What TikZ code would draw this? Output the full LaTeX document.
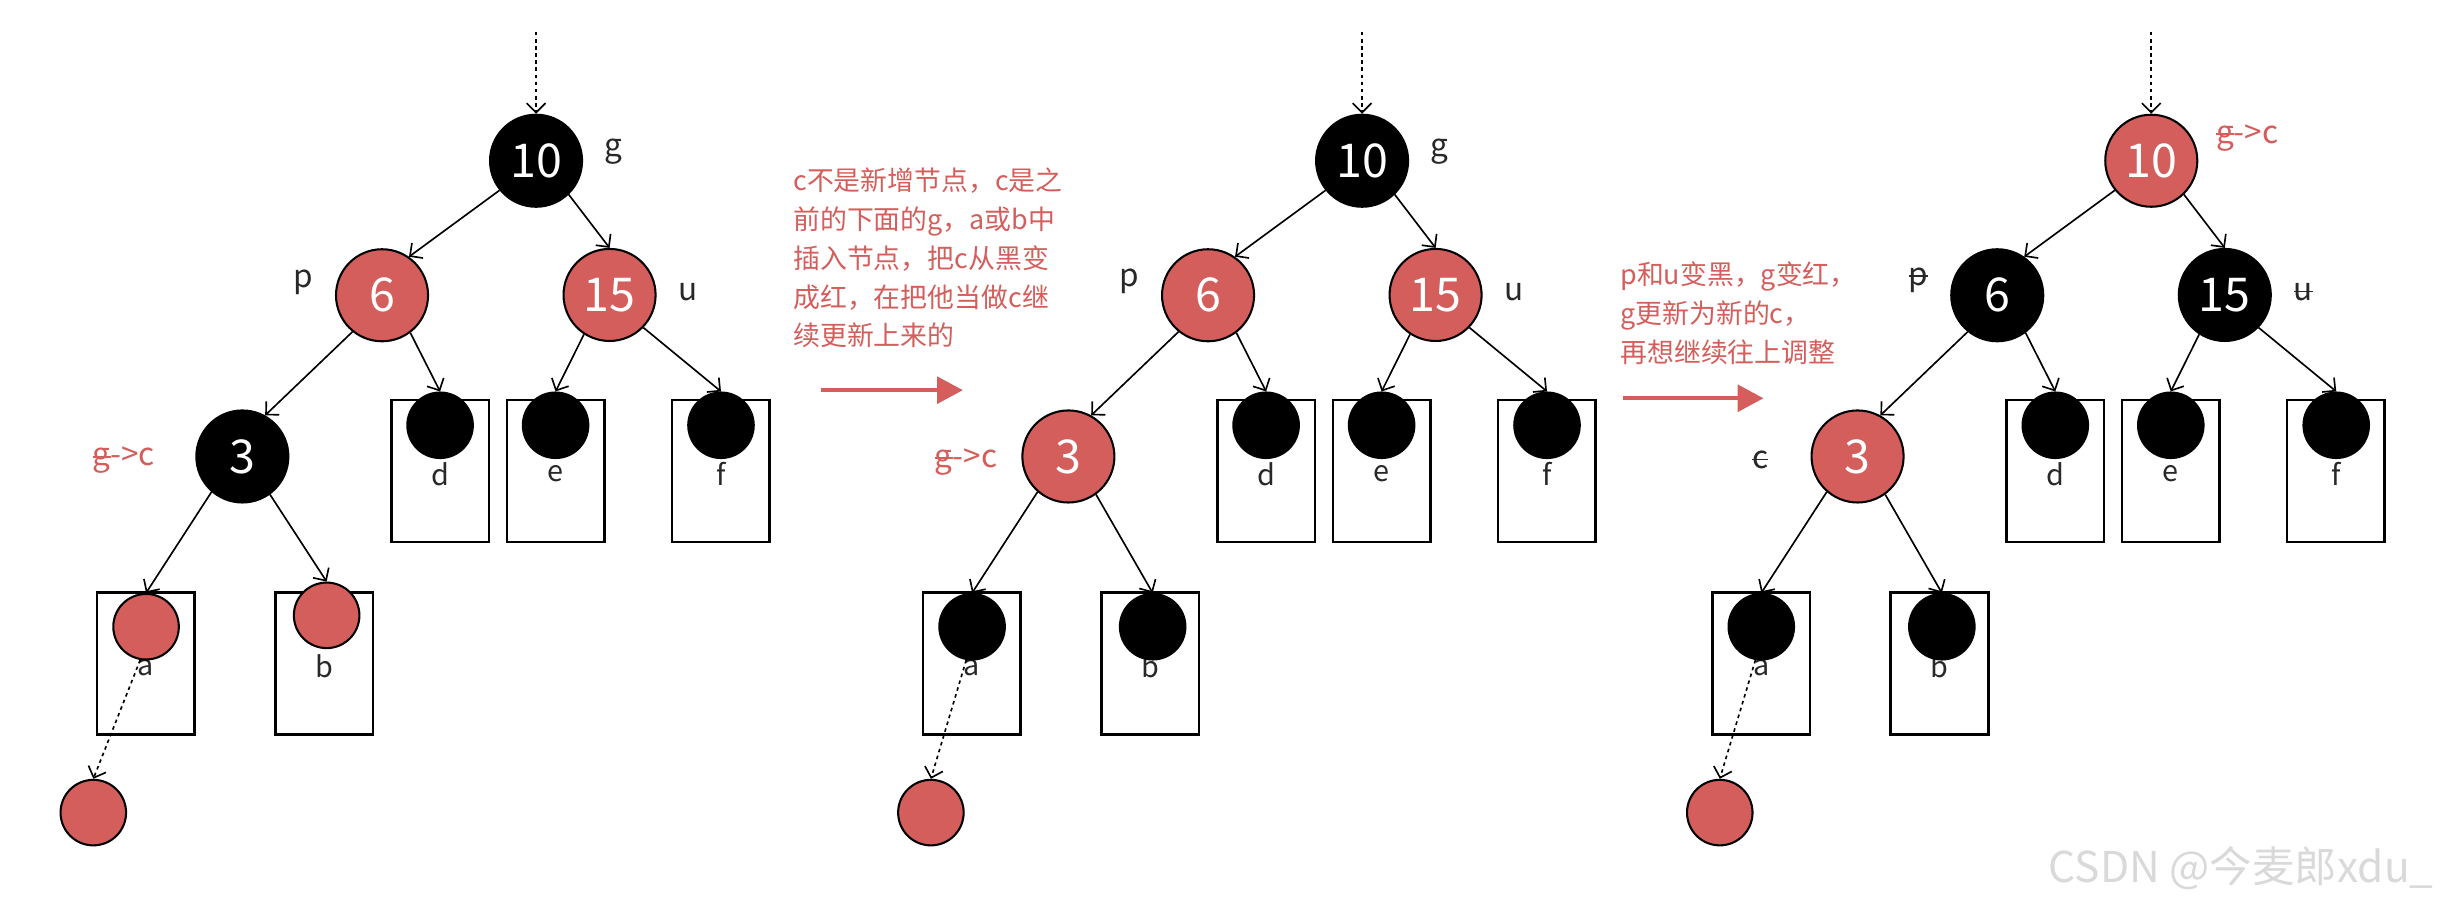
\documentclass[tikz,border=0pt]{standalone}
\usepackage{fontspec}
\setmainfont{Noto Sans CJK SC}
\usetikzlibrary{arrows.meta,positioning}
\definecolor{vred}{RGB}{212,94,92}
\definecolor{vink}{RGB}{40,40,40}

% struck-out letter
\newsavebox\strkbox
\newcommand{\strk}[1]{\sbox\strkbox{#1}\rlap{\rule[0.26em]{\wd\strkbox}{0.06em}}\usebox\strkbox}

% one tree: #1 prefix, #2 x shift, #3 fill of 10, #4 fill of 6/15, #5 fill of 3,
% #6 fill of a/b, #7 y of leaf b, #8 x of the new node
\newcommand{\rbtree}[8]{%
  \begin{scope}[shift={(#2,0)}]
    \coordinate (#1top) at (343.5,20.4);
    \node[rbnode,fill=#3] (#1n10) at (343.5,103) {10};
    \node[rbnode,fill=#4] (#1n6) at (244.8,189.2) {6};
    \node[rbnode,fill=#4] (#1n15) at (390.6,189) {15};
    \node[rbnode,fill=#5] (#1n3) at (155.3,292.5) {3};
    \node[nilbox] (#1bd) at (282,301.8) {};
    \node[nilbox] (#1be) at (356,301.8) {};
    \node[nilbox] (#1bf) at (461.8,301.8) {};
    \node[nilbox] (#1ba) at (93.5,425.3) {};
    \node[nilbox] (#1bb) at (207.8,425.3) {};
    \node[leaflbl] (#1ld) at (282,303.6) {d};
    \node[leaflbl] (#1le) at (356,303.6) {e};
    \node[leaflbl] (#1lf) at (461.8,303.6) {f};
    \node[leaflbl] (#1la) at (93.6,428) {a};
    \node[leaflbl] (#1lb) at (207.8,427) {b};
    \node[leafdot,fill=black] (#1cd) at (282,272.5) {};
    \node[leafdot,fill=black] (#1ce) at (356,272.5) {};
    \node[leafdot,fill=black] (#1cf) at (462,272.5) {};
    \node[leafdot,fill=#6] (#1ca) at (93.6,401.6) {};
    \node[leafdot,fill=#6] (#1cb) at (209.3,#7) {};
    \node[leafdot,fill=vred] (#1new) at (#8,520.7) {};
    \draw[dotlink] (#1top) -- (#1n10.north);
    \draw[link] (#1n10.219) -- (#1n6.55);
    \draw[link] (#1n10.-46) -- (#1n15.north);
    \draw[link] (#1n6.231) -- (#1n3.61);
    \draw[link] (#1n6.-53) -- (#1cd.north);
    \draw[link] (#1n15.237) -- (#1ce.north);
    \draw[link] (#1n15.-44) -- (#1cf.north);
    \draw[link] (#1n3.229) -- (#1ca.north);
    \draw[link] (#1n3.-54) -- (#1cb.north);
    \draw[dotlink] (#1ca.-100) -- (#1new.north);
  \end{scope}}

\begin{document}
\begin{tikzpicture}[x=0.02cm,y=-0.02cm,
    rbnode/.style={circle,draw=black,line width=0.75pt,minimum size=1.18cm,inner sep=0pt,
      text=white,font=\fontsize{17}{17}\selectfont},
    leafdot/.style={circle,draw=black,line width=0.75pt,minimum size=0.84cm,inner sep=0pt},
    nilbox/.style={draw=black,line width=0.95pt,minimum width=1.25cm,minimum height=1.82cm,inner sep=0pt},
    leaflbl/.style={text=vink,font=\fontsize{10.5}{12}\selectfont,inner sep=0pt},
    lbl/.style={text=vink,font=\fontsize{11.5}{13}\selectfont,inner sep=0pt},
    redlbl/.style={lbl,text=vred},
    link/.style={draw,line width=0.6pt,-{Straight Barb[length=1.2mm,width=2.4mm]}},
    dotlink/.style={link,dash pattern=on 1.3pt off 1.3pt},
    note/.style={text=vred,align=left,inner sep=0pt,anchor=north west,font=\fontsize{9.8}{14.2}\selectfont},
    bigarrow/.style={draw=vred,line width=1.5pt,-{Triangle[length=3.3mm,width=3.4mm]}}]
  \useasboundingbox (0,0) rectangle (1568,581);

  \rbtree{t1}{0}{black}{vred}{black}{vred}{394.3}{59.8}
  \rbtree{t2}{529.3}{black}{vred}{vred}{black}{401.6}{67.2}
  \rbtree{t3}{1035}{vred}{black}{vred}{black}{401.6}{67}

  % labels
  \node[lbl] (g1) at (392.8,97) {g};
  \node[lbl] (p1) at (194.4,180.7) {p};
  \node[lbl] (u1) at (441,187) {u};
  \node[redlbl] (c1) at (79.4,295) {\strk{g}->c};
  \node[lbl] (g2) at (922.3,97.2) {g};
  \node[lbl] (p2) at (723.5,180.5) {p};
  \node[lbl] (u2) at (970.3,187) {u};
  \node[redlbl] (c2) at (619,295.8) {\strk{g}->c};
  \node[redlbl] (g3) at (1440,88.4) {\strk{g}->c};
  \node[lbl] (p3) at (1229.2,179.4) {\strk{p}};
  \node[lbl] (u3) at (1476,187.3) {\strk{u}};
  \node[lbl] (c3) at (1127.8,294.8) {\strk{c}};

  % steps
  \node[note] (note1) at (508,107) {c不是新增节点，c是之\\前的下面的g，a或b中\\插入节点，把c从黑变\\成红，在把他当做c继\\续更新上来的};
  \coordinate (go1) at (526,250);
  \coordinate (to1) at (617,250);
  \draw[bigarrow] (go1) -- (to1);
  \node[note] (note2) at (1038,167.5) {p和u变黑，g变红，\\g更新为新的c，\\再想继续往上调整};
  \coordinate (go2) at (1040,255.2);
  \coordinate (to2) at (1130,255.2);
  \draw[bigarrow] (go2) -- (to2);

  \node[anchor=east,text=black!15,font=\fontsize{15.5}{16}\selectfont] (mark) at (1565.6,556.4) {CSDN @今麦郎xdu\_};
\end{tikzpicture}
\end{document}
